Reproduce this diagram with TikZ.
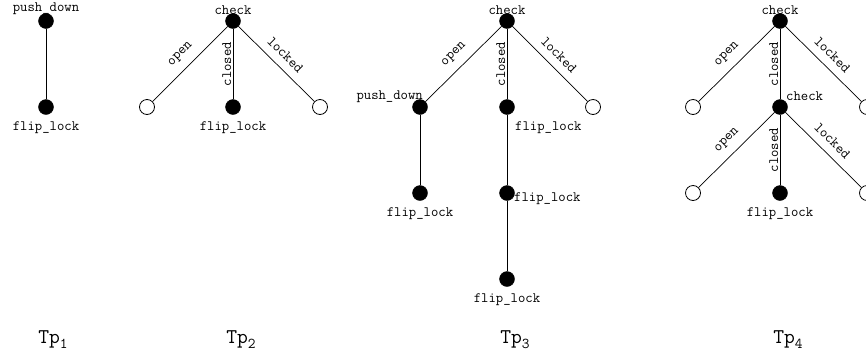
\documentclass[tikz,border=0pt]{standalone}
\begin{document}
\begin{tikzpicture}[x=1pt,y=1pt,
  full/.style={circle,fill=black,draw=black,minimum size=15pt,inner sep=0pt},
  hollow/.style={circle,fill=white,draw=black,line width=0.8pt,minimum size=15pt,inner sep=0pt},
  tt/.style={font=\ttfamily\fontsize{14.3}{16}\selectfont},
  lab/.style={tt,inner sep=0pt},
  elab/.style={tt,inner sep=0pt,sloped,above=8pt},
  clab/.style={tt,inner sep=0pt,sloped,above=1.5pt},
  conn/.style={line width=0.7pt},
  tp/.style={font=\ttfamily\fontsize{21}{23}\selectfont,anchor=base,inner sep=0pt},
  up/.style={label={[lab,label distance=-1.5pt]above:#1}},
  down/.style={label={[lab,label distance=7pt]below:#1}}]
\clip (0,0) rectangle (866,-354);
% Tp1
\node[full,up=push\_down] (a1) at (46,-21) {};
\node[full,down=flip\_lock] (a2) at (46,-107) {};
\draw[conn] (a1) -- (a2);
% Tp2
\node[full,up=check] (b1) at (233,-21) {};
\node[hollow] (b2) at (147,-107) {};
\node[full,down=flip\_lock] (b3) at (233,-107) {};
\node[hollow] (b4) at (320,-107) {};
\draw[conn] (b2) -- node[elab]{open} (b1);
\draw[conn] (b3) -- node[clab]{closed} (b1);
\draw[conn] (b1) -- node[elab]{locked} (b4);
% Tp3
\node[full,up=check] (c1) at (507,-21) {};
\node[full] (c2) at (420,-107) {};
\node[full] (c3) at (507,-107) {};
\node[hollow] (c4) at (593,-107) {};
\node[full,down=flip\_lock] (c5) at (420,-193) {};
\node[full] (c6) at (507,-193) {};
\node[full,down=flip\_lock] (c7) at (507,-279) {};
\node[lab,anchor=base east] (c2l) at ([shift={(3,8)}]c2.center) {push\_down};
\node[lab,anchor=north west] (c3l) at ([shift={(8,-14.5)}]c3.center) {flip\_lock};
\node[lab,anchor=north west] (c6l) at ([shift={(7,0.5)}]c6.center) {flip\_lock};
\draw[conn] (c2) -- node[elab]{open} (c1);
\draw[conn] (c3) -- node[clab]{closed} (c1);
\draw[conn] (c1) -- node[elab]{locked} (c4);
\draw[conn] (c2) -- (c5);
\draw[conn] (c3) -- (c6);
\draw[conn] (c6) -- (c7);
% Tp4
\node[full,up=check] (d1) at (780,-21) {};
\node[hollow] (d2) at (693,-107) {};
\node[full] (d3) at (780,-107) {};
\node[hollow] (d4) at (867,-107) {};
\node[hollow] (d5) at (693,-193) {};
\node[full,down=flip\_lock] (d6) at (780,-193) {};
\node[hollow] (d7) at (867,-193) {};
\node[lab,anchor=base west] (d3l) at ([shift={(6,7)}]d3.center) {check};
\draw[conn] (d2) -- node[elab]{open} (d1);
\draw[conn] (d3) -- node[clab]{closed} (d1);
\draw[conn] (d1) -- node[elab]{locked} (d4);
\draw[conn] (d5) -- node[elab]{open} (d3);
\draw[conn] (d6) -- node[clab]{closed} (d3);
\draw[conn] (d3) -- node[elab]{locked} (d7);
% captions
\node[tp] (t1) at (53,-343) {Tp\raisebox{-5pt}{\fontsize{15}{15}\selectfont 1}};
\node[tp] (t2) at (241,-343) {Tp\raisebox{-5pt}{\fontsize{15}{15}\selectfont 2}};
\node[tp] (t3) at (515,-343) {Tp\raisebox{-5pt}{\fontsize{15}{15}\selectfont 3}};
\node[tp] (t4) at (788,-343) {Tp\raisebox{-5pt}{\fontsize{15}{15}\selectfont 4}};
\end{tikzpicture}
\end{document}
